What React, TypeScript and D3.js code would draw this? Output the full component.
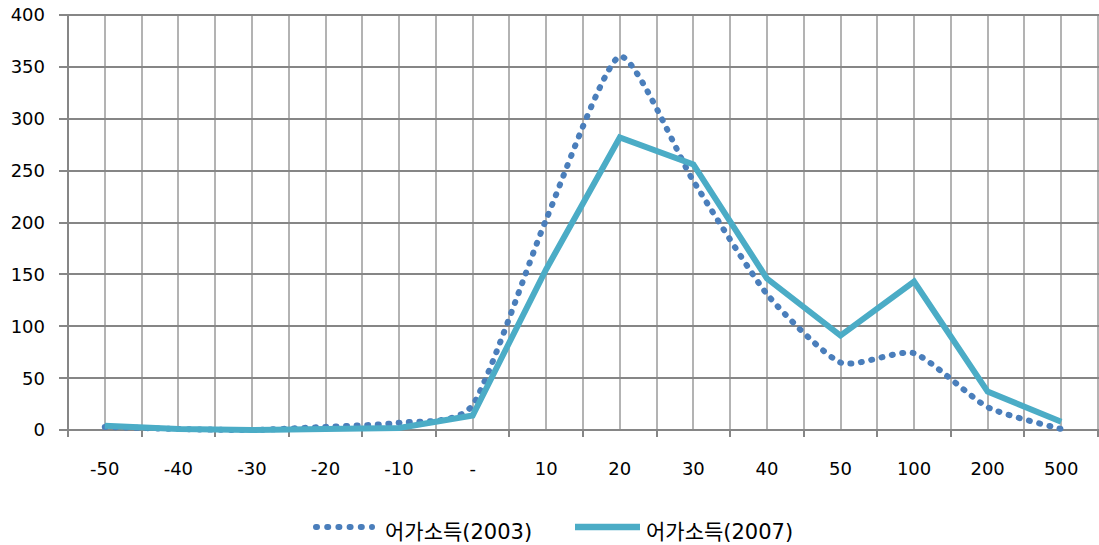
import React from "react";
import * as d3 from "d3";

const categories = ["-50", "-40", "-30", "-20", "-10", "-", "10", "20", "30", "40", "50", "100", "200", "500"];
const series2003 = [3, 1, 0, 3, 7, 24, 203, 360, 240, 131, 65, 74, 22, 1];
const series2007 = [4, 1, 0, 1, 2, 14, 155, 282, 256, 146, 91, 143, 37, 8];
const yTicks = [0, 50, 100, 150, 200, 250, 300, 350, 400];
const label2003 = "어가소득(2003)";
const label2007 = "어가소득(2007)";

const W = 1099;
const H = 545;
const left = 68;
const right = 1098;
const top = 15;
const bottom = 430;

const numFont = "'DejaVu Sans', 'Noto Sans CJK KR', sans-serif";

export default function App() {
  const x = d3.scalePoint<string>().domain(categories).range([left, right]).padding(0.5);
  const step = x.step();
  const y = d3.scaleLinear().domain([0, 400]).range([bottom, top]);

  const smooth = d3
    .line<number>()
    .x((_, i) => x(categories[i]) as number)
    .y((d) => y(d))
    .curve(d3.curveCardinal.tension(0.4));
  const straight = d3
    .line<number>()
    .x((_, i) => x(categories[i]) as number)
    .y((d) => y(d));

  const vLines = d3.range(1, categories.length * 2 + 1).map((i) => Math.round(left + (i * step) / 2));
  const boundaries = d3.range(0, categories.length + 1).map((i) => Math.round(left + i * step));

  return (
    <svg width={W} height={H} style={{ position: "absolute", left: 0, top: 0, background: "#fff" }}>
      {vLines.map((vx, i) => (
        <line key={"v" + i} x1={vx} x2={vx} y1={top} y2={bottom} stroke="#b3b3b3" strokeWidth={2} />
      ))}
      {yTicks.map((t) => (
        <line key={"h" + t} x1={59} x2={right + 1} y1={Math.round(y(t))} y2={Math.round(y(t))} stroke="#868686" strokeWidth={2} />
      ))}
      <line x1={left} x2={left} y1={top - 1} y2={bottom + 7} stroke="#868686" strokeWidth={2} />
      {boundaries.map((bx, i) => (
        <line key={"t" + i} x1={bx} x2={bx} y1={bottom} y2={bottom + 7} stroke="#868686" strokeWidth={2} />
      ))}
      {yTicks.map((t) => (
        <text key={"yl" + t} x={45} y={y(t)} dy="0.36em" textAnchor="end" fontFamily={numFont} fontSize={18} fill="#000">
          {t}
        </text>
      ))}
      {categories.map((c) => (
        <text key={"xl" + c} x={x(c) as number} y={475} textAnchor="middle" fontFamily={numFont} fontSize={18} fill="#000">
          {c}
        </text>
      ))}
      <path
        d={smooth(series2003) || ""}
        fill="none"
        stroke="#4a7ebb"
        strokeWidth={6}
        strokeLinecap="round"
        strokeDasharray="1 9.5"
      />
      <path d={straight(series2007) || ""} fill="none" stroke="#4bacc6" strokeWidth={6} strokeLinejoin="miter" />
      <line x1={316} x2={372} y1={527} y2={527} stroke="#4a7ebb" strokeWidth={6} strokeLinecap="round" strokeDasharray="1 10.2" />
      <text x={385} y={539} fontFamily={numFont} fontSize={21} fill="#000">
        {label2003}
      </text>
      <line x1={575} x2={640} y1={527} y2={527} stroke="#4bacc6" strokeWidth={6.5} />
      <text x={646} y={539} fontFamily={numFont} fontSize={21} fill="#000">
        {label2007}
      </text>
    </svg>
  );
}
